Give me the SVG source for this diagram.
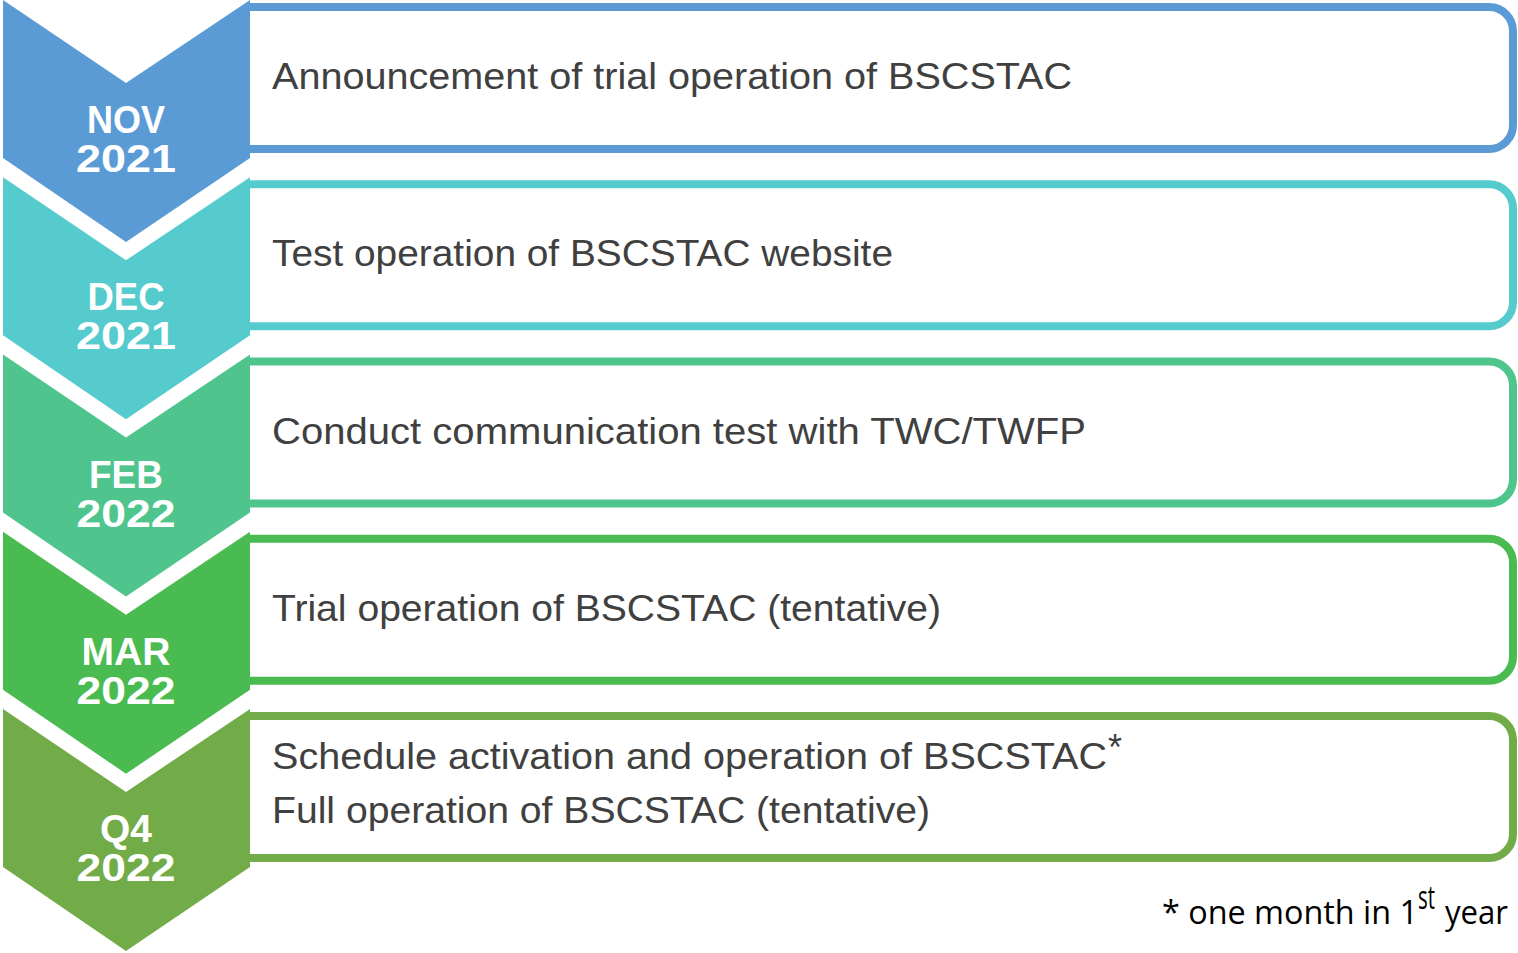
<svg xmlns="http://www.w3.org/2000/svg" width="1518" height="953" viewBox="0 0 1518 953">
<style>
.box{fill:#fff;stroke-width:8;stroke-linejoin:round}
.lbl{font-family:"Liberation Sans",Arial,sans-serif;font-weight:bold;font-size:38px;fill:#fff;text-anchor:middle}
.txt{font-family:"Liberation Sans",Arial,sans-serif;font-size:36px;fill:#404040}
.note{font-family:"Open Sans","Liberation Sans",sans-serif;font-size:32px;fill:#000}
</style>
<defs>
<path id="chev" d="M3,0 L126,83 L250,0 L250,158 L126,242 L3,158 Z"/>
<path id="boxp" d="M250,7 H1489 A24,24 0 0 1 1513,31 V125 A24,24 0 0 1 1489,149 H250"/>
</defs>
<rect width="1518" height="953" fill="#fff"/>
<g id="step1">
<use href="#boxp" class="box" stroke="#5B9BD5"/>
<use href="#chev" fill="#5B9BD5"/>
<text class="lbl" x="126" y="133" textLength="78" lengthAdjust="spacingAndGlyphs">NOV</text>
<text class="lbl" x="126" y="172" textLength="100" lengthAdjust="spacingAndGlyphs">2021</text>
<text class="txt" x="272" y="89" textLength="800" lengthAdjust="spacingAndGlyphs">Announcement of trial operation of BSCSTAC</text>
</g>
<g id="step2" transform="translate(0,177.25)">
<use href="#boxp" class="box" stroke="#55CBCD"/>
<use href="#chev" fill="#55CBCD"/>
<text class="lbl" x="126" y="133" textLength="77" lengthAdjust="spacingAndGlyphs">DEC</text>
<text class="lbl" x="126" y="172" textLength="100" lengthAdjust="spacingAndGlyphs">2021</text>
<text class="txt" x="272" y="89" textLength="621" lengthAdjust="spacingAndGlyphs">Test operation of BSCSTAC website</text>
</g>
<g id="step3" transform="translate(0,354.5)">
<use href="#boxp" class="box" stroke="#4FC58D"/>
<use href="#chev" fill="#4FC58D"/>
<text class="lbl" x="126" y="133" textLength="74" lengthAdjust="spacingAndGlyphs">FEB</text>
<text class="lbl" x="126" y="172" textLength="99" lengthAdjust="spacingAndGlyphs">2022</text>
<text class="txt" x="272" y="89" textLength="814" lengthAdjust="spacingAndGlyphs">Conduct communication test with TWC/TWFP</text>
</g>
<g id="step4" transform="translate(0,531.75)">
<use href="#boxp" class="box" stroke="#49BB50"/>
<use href="#chev" fill="#49BB50"/>
<text class="lbl" x="126" y="133" textLength="89" lengthAdjust="spacingAndGlyphs">MAR</text>
<text class="lbl" x="126" y="172" textLength="99" lengthAdjust="spacingAndGlyphs">2022</text>
<text class="txt" x="272" y="89" textLength="669" lengthAdjust="spacingAndGlyphs">Trial operation of BSCSTAC (tentative)</text>
</g>
<g id="step5" transform="translate(0,709)">
<use href="#boxp" class="box" stroke="#72AC48"/>
<use href="#chev" fill="#72AC48"/>
<text class="lbl" x="126" y="133" textLength="52" lengthAdjust="spacingAndGlyphs">Q4</text>
<text class="lbl" x="126" y="172" textLength="99" lengthAdjust="spacingAndGlyphs">2022</text>
<text class="txt" x="272" y="60" textLength="835" lengthAdjust="spacingAndGlyphs">Schedule activation and operation of BSCSTAC</text>
<text class="txt" x="1108" y="51" font-size="28">*</text>
<text class="txt" x="272" y="114" textLength="658" lengthAdjust="spacingAndGlyphs">Full operation of BSCSTAC (tentative)</text>
</g>
<g id="footnote">
<text class="note" x="1162" y="924" textLength="256" lengthAdjust="spacingAndGlyphs">* one month in 1</text>
<text class="note" x="1418" y="909" font-size="20" textLength="17" lengthAdjust="spacingAndGlyphs">st</text>
<text class="note" x="1445" y="924" textLength="63" lengthAdjust="spacingAndGlyphs">year</text>
</g>
<g id="connectors"/>
</svg>
